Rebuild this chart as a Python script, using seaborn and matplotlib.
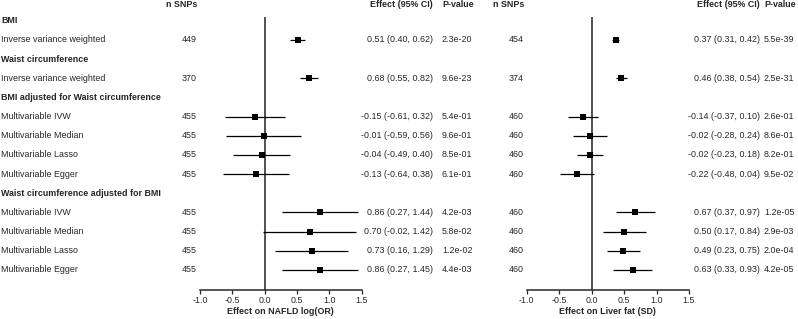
import matplotlib
matplotlib.use("Agg")
import matplotlib.pyplot as plt
import matplotlib.transforms as mtransforms
import seaborn as sns
import pandas as pd

# groups and methods (rows of the forest plot)
groups = ["BMI", "Waist circumference",
          "BMI adjusted for Waist circumference",
          "Waist circumference adjusted for BMI"]
methods = [["Inverse variance weighted"],
           ["Inverse variance weighted"],
           ["Multivariable IVW", "Multivariable Median", "Multivariable Lasso", "Multivariable Egger"],
           ["Multivariable IVW", "Multivariable Median", "Multivariable Lasso", "Multivariable Egger"]]

# NAFLD log(OR)
nafld_n = [449, 370, 455, 455, 455, 455, 455, 455, 455, 455]
nafld_est = [0.51, 0.68, -0.15, -0.01, -0.04, -0.13, 0.86, 0.70, 0.73, 0.86]
nafld_lo = [0.40, 0.55, -0.61, -0.59, -0.49, -0.64, 0.27, -0.02, 0.16, 0.27]
nafld_hi = [0.62, 0.82, 0.32, 0.56, 0.40, 0.38, 1.44, 1.42, 1.29, 1.45]
nafld_p = ["2.3e-20", "9.6e-23", "5.4e-01", "9.6e-01", "8.5e-01", "6.1e-01",
           "4.2e-03", "5.8e-02", "1.2e-02", "4.4e-03"]

# Liver fat (SD)
liver_n = [454, 374, 460, 460, 460, 460, 460, 460, 460, 460]
liver_est = [0.37, 0.46, -0.14, -0.02, -0.02, -0.22, 0.67, 0.50, 0.49, 0.63]
liver_lo = [0.31, 0.38, -0.37, -0.28, -0.23, -0.48, 0.37, 0.17, 0.23, 0.33]
liver_hi = [0.42, 0.54, 0.10, 0.24, 0.18, 0.04, 0.97, 0.84, 0.75, 0.93]
liver_p = ["5.5e-39", "2.5e-31", "2.6e-01", "8.6e-01", "8.2e-01", "9.5e-02",
           "1.2e-05", "2.9e-03", "2.0e-04", "4.2e-05"]

xticks = [-1.0, -0.5, 0.0, 0.5, 1.0, 1.5]

sns.set_style("white")
plt.rcParams["font.family"] = ["Liberation Sans", "DejaVu Sans"]
FS = 6.4

# build row positions
header_rows = []
data_rows = []
row_labels = []
r = 0
for g, ms in zip(groups, methods):
    header_rows.append((r, g))
    r += 1
    for m in ms:
        data_rows.append(r)
        row_labels.append(m)
        r += 1

W, H = 798, 319
fig = plt.figure(figsize=(W / 100, H / 100), dpi=100)

def px(x):
    return x / W

ax1 = fig.add_axes([px(200), 1 - 290 / H, px(161.5), 273 / H])
ax2 = fig.add_axes([px(526.7), 1 - 290 / H, px(162.3), 273 / H])


def forest(ax, n, est, lo, hi, pv, xlab, xn, xeff, xp):
    df = pd.DataFrame({"row": data_rows, "est": est, "lo": lo, "hi": hi})
    ax.hlines(df["row"], df["lo"], df["hi"], color="black", lw=0.9, zorder=2)
    sns.scatterplot(data=df, x="est", y="row", marker="s", color="black",
                    s=14, linewidth=0, ax=ax, zorder=3)
    ax.axvline(0, color="#333333", lw=1.2, zorder=1)
    ax.set_xlim(-1.0, 1.5)
    ax.set_ylim(14.05, -0.2)
    ax.set_yticks([])
    ax.set_xticks(xticks)
    ax.set_xticklabels([f"{t:.1f}" for t in xticks], fontsize=FS)
    ax.tick_params(axis="x", direction="out", length=3, width=0.9, pad=1.5, bottom=True)
    for s in ["top", "right", "left"]:
        ax.spines[s].set_visible(False)
    ax.spines["bottom"].set_linewidth(1.1)
    ax.set_xlabel(xlab, fontsize=FS, fontweight="bold", labelpad=1.5)
    ax.set_ylabel("")
    ax.patch.set_alpha(0)

    tr = mtransforms.blended_transform_factory(fig.transFigure, ax.transData)
    hy = -0.85
    ax.text(px(xn), hy, "n SNPs", transform=tr, ha="right", va="center",
            fontsize=FS, fontweight="bold")
    ax.text(px(xeff), hy, "Effect (95% CI)", transform=tr, ha="right", va="center",
            fontsize=FS, fontweight="bold")
    ax.text(px(xp), hy, "P-value", transform=tr, ha="left", va="center",
            fontsize=FS, fontweight="bold")
    for rr, k, e, l, h, p in zip(data_rows, n, est, lo, hi, pv):
        ax.text(px(xn), rr, str(k), transform=tr, ha="right", va="center", fontsize=FS)
        ax.text(px(xeff), rr, f"{e:.2f} ({l:.2f}, {h:.2f})", transform=tr,
                ha="right", va="center", fontsize=FS)
        ax.text(px(xp), rr, p, transform=tr, ha="left", va="center", fontsize=FS)
    return tr


tr1 = forest(ax1, nafld_n, nafld_est, nafld_lo, nafld_hi, nafld_p,
             "Effect on NAFLD log(OR)", 197, 433, 442)
forest(ax2, liver_n, liver_est, liver_lo, liver_hi, liver_p,
       "Effect on Liver fat (SD)", 524, 760, 764)

# row labels on the left
for rr, g in header_rows:
    ax1.text(px(1), rr, g, transform=tr1, ha="left", va="center",
             fontsize=FS, fontweight="bold")
for rr, m in zip(data_rows, row_labels):
    ax1.text(px(1), rr, m, transform=tr1, ha="left", va="center", fontsize=FS)

fig.savefig("out.png", dpi=100)
